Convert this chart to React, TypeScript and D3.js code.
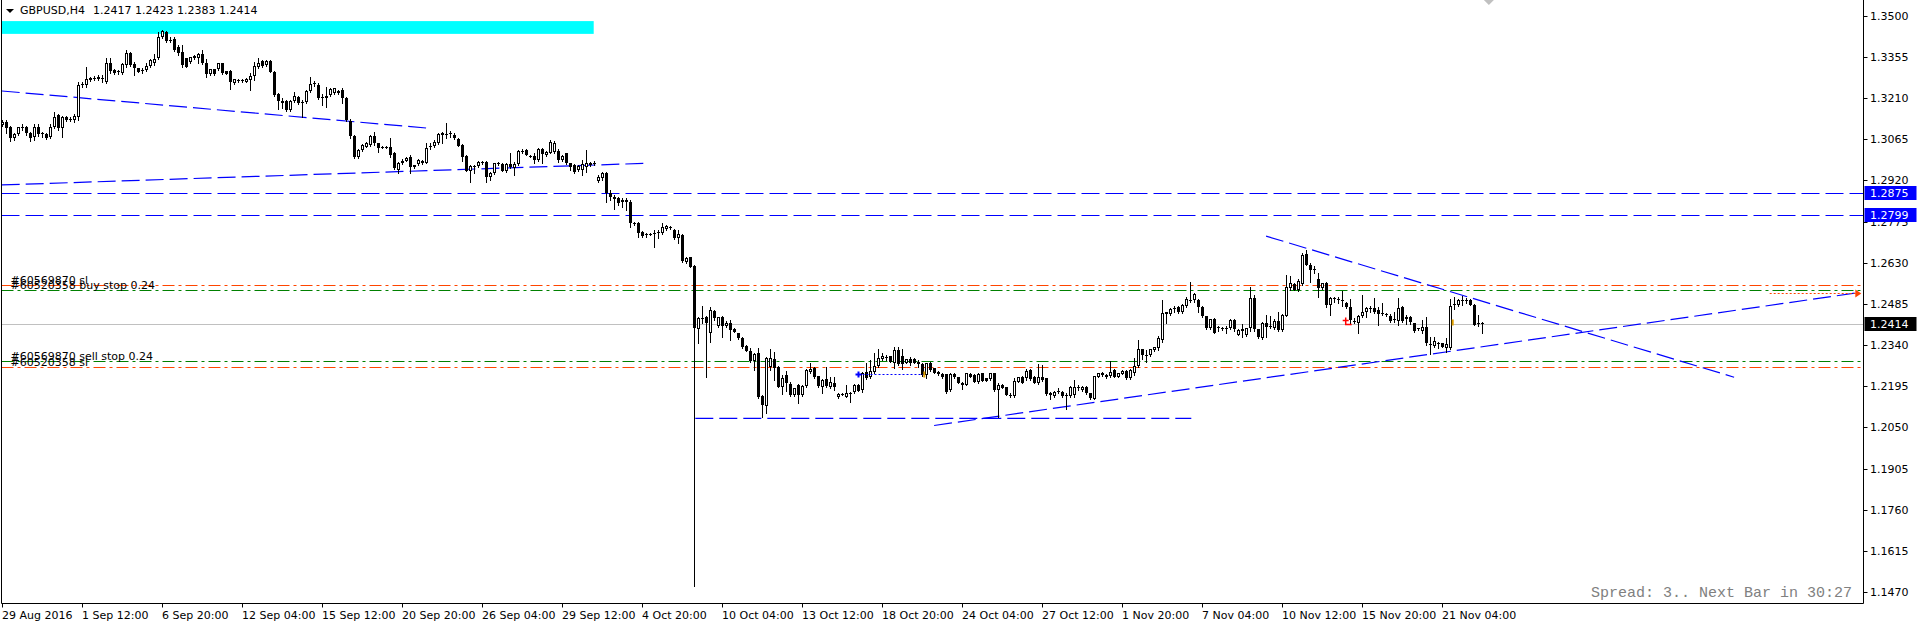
import React from 'react';
import * as d3 from 'd3';

// ---------- DATA (H4 GBPUSD, [open, high, low, close]) ----------
const bars1: number[][] = [
[1.3115,1.3133,1.3110,1.3125],[1.3127,1.3133,1.3086,1.3103],[1.3109,1.3112,1.3060,1.3068],[1.3068,1.3086,1.3062,1.3084],
[1.3084,1.3109,1.3080,1.3107],[1.3107,1.3119,1.3098,1.3109],[1.3107,1.3112,1.3080,1.3086],[1.3086,1.3090,1.3060,1.3068],
[1.3072,1.3119,1.3062,1.3107],[1.3107,1.3119,1.3076,1.3084],[1.3084,1.3092,1.3074,1.3086],[1.3084,1.3088,1.3066,1.3068],
[1.3072,1.3119,1.3068,1.3109],[1.3107,1.3162,1.3103,1.3145],[1.3150,1.3154,1.3098,1.3103],[1.3103,1.3147,1.3074,1.3145],
[1.3142,1.3148,1.3130,1.3133],[1.3135,1.3145,1.3128,1.3138],[1.3133,1.3154,1.3127,1.3148],[1.3145,1.3268,1.3133,1.3256],
[1.3256,1.3268,1.3250,1.3260],[1.3256,1.3321,1.3250,1.3276],[1.3274,1.3285,1.3270,1.3280],[1.3280,1.3288,1.3274,1.3279],
[1.3277,1.3291,1.3274,1.3285],[1.3280,1.3291,1.3268,1.3276],[1.3268,1.3350,1.3262,1.3332],[1.3332,1.3350,1.3297,1.3307],
[1.3309,1.3312,1.3294,1.3297],[1.3300,1.3309,1.3295,1.3305],[1.3297,1.3332,1.3294,1.3329],[1.3327,1.3379,1.3321,1.3368],
[1.3368,1.3371,1.3324,1.3327],[1.3329,1.3338,1.3291,1.3315],[1.3315,1.3317,1.3300,1.3303],[1.3307,1.3317,1.3297,1.3309],
[1.3309,1.3332,1.3307,1.3324],[1.3324,1.3346,1.3321,1.3344],[1.3332,1.3364,1.3327,1.3346],[1.3350,1.3444,1.3346,1.3424],
[1.3424,1.3450,1.3420,1.3446],[1.3442,1.3446,1.3409,1.3412],[1.3412,1.3426,1.3409,1.3415],[1.3417,1.3426,1.3377,1.3379],
[1.3389,1.3397,1.3362,1.3368],[1.3371,1.3397,1.3321,1.3325],[1.3350,1.3352,1.3318,1.3321],[1.3338,1.3356,1.3335,1.3354],
[1.3350,1.3360,1.3348,1.3358],[1.3350,1.3368,1.3335,1.3364],[1.3365,1.3379,1.3330,1.3332],[1.3335,1.3346,1.3285,1.3295],
[1.3295,1.3313,1.3292,1.3311],[1.3311,1.3314,1.3290,1.3294],[1.3312,1.3335,1.3309,1.3332],[1.3332,1.3335,1.3295,1.3297],
[1.3305,1.3307,1.3293,1.3295],[1.3307,1.3309,1.3241,1.3265],[1.3262,1.3278,1.3258,1.3276],[1.3273,1.3278,1.3268,1.3271],
[1.3271,1.3276,1.3266,1.3272],[1.3268,1.3282,1.3265,1.3278],[1.3274,1.3297,1.3239,1.3288],[1.3288,1.3338,1.3274,1.3323],
[1.3321,1.3352,1.3317,1.3335],[1.3341,1.3344,1.3320,1.3323],[1.3327,1.3345,1.3324,1.3341],[1.3341,1.3344,1.3300,1.3303],
[1.3303,1.3307,1.3217,1.3221],[1.3224,1.3229,1.3170,1.3201],[1.3201,1.3209,1.3174,1.3194],[1.3199,1.3203,1.3166,1.3168],
[1.3168,1.3203,1.3165,1.3201],[1.3201,1.3233,1.3197,1.3217],[1.3215,1.3218,1.3190,1.3192],[1.3192,1.3203,1.3145,1.3196],
[1.3195,1.3239,1.3192,1.3236],[1.3236,1.3285,1.3233,1.3260],[1.3260,1.3271,1.3253,1.3262],[1.3256,1.3262,1.3205,1.3209],
[1.3215,1.3224,1.3186,1.3209],[1.3209,1.3250,1.3180,1.3217],[1.3221,1.3244,1.3218,1.3242],[1.3227,1.3247,1.3224,1.3244],
[1.3236,1.3240,1.3226,1.3229],[1.3239,1.3244,1.3192,1.3209],[1.3211,1.3213,1.3130,1.3133],[1.3130,1.3135,1.3068,1.3076],
[1.3076,1.3080,1.2998,1.3001],[1.3004,1.3030,1.3000,1.3027],[1.3027,1.3048,1.3024,1.3045],[1.3039,1.3055,1.3036,1.3051],
[1.3045,1.3080,1.3042,1.3076],[1.3076,1.3092,1.3045,1.3051],[1.3051,1.3053,1.3021,1.3033],[1.3036,1.3042,1.3033,1.3039],
[1.3039,1.3042,1.3034,1.3038],[1.3039,1.3068,1.3004,1.3010],[1.3018,1.3020,1.2960,1.2963],
];
const bars2: number[][] = [
[1.2957,1.2985,1.2947,1.2983],[1.2983,1.2995,1.2978,1.2990],[1.2990,1.3003,1.2987,1.3000],[1.3004,1.3008,1.2947,1.2966],
[1.2966,1.2976,1.2962,1.2974],[1.2978,1.2995,1.2975,1.2992],[1.2980,1.2993,1.2977,1.2990],[1.2980,1.3051,1.2980,1.3033],
[1.3036,1.3051,1.3029,1.3041],[1.3041,1.3062,1.3038,1.3054],[1.3051,1.3086,1.3048,1.3083],[1.3080,1.3092,1.3051,1.3086],
[1.3083,1.3121,1.3068,1.3085],[1.3085,1.3095,1.3074,1.3087],[1.3080,1.3086,1.3065,1.3068],[1.3066,1.3068,1.3040,1.3042],
[1.3045,1.3048,1.2990,1.3004],[1.3006,1.3008,1.2952,1.2954],[1.2954,1.2974,1.2916,1.2971],[1.2970,1.2974,1.2945,1.2968],
[1.2971,1.2987,1.2968,1.2984],[1.2984,1.2988,1.2978,1.2983],[1.2985,1.2988,1.2916,1.2933],[1.2933,1.2951,1.2921,1.2947],
[1.2945,1.2983,1.2942,1.2980],[1.2980,1.2985,1.2975,1.2979],[1.2977,1.2980,1.2952,1.2954],[1.2954,1.2980,1.2951,1.2977],
[1.2977,1.3015,1.2963,1.2966],[1.2963,1.2986,1.2939,1.2977],[1.2977,1.3027,1.2975,1.3024],[1.3021,1.3030,1.3016,1.3024],
[1.3027,1.3032,1.3008,1.3010],[1.3007,1.3010,1.3001,1.3004],[1.3007,1.3015,1.2980,1.2992],[1.2992,1.3033,1.2990,1.3029],
[1.3029,1.3033,1.2983,1.3012],[1.3010,1.3024,1.3007,1.3021],[1.3018,1.3062,1.3015,1.3056],[1.3020,1.3058,1.3016,1.3053],
[1.3025,1.3029,1.2986,1.2992],[1.2992,1.3008,1.2990,1.3006],[1.3015,1.3018,1.2978,1.2980],[1.2980,1.2983,1.2957,1.2968],
[1.2974,1.2977,1.2945,1.2951],[1.2957,1.2975,1.2954,1.2971],[1.2957,1.2992,1.2939,1.2977],[1.2966,1.3027,1.2951,1.2980],
[1.2974,1.2986,1.2971,1.2983],[1.2983,1.2987,1.2974,1.2978],[1.2919,1.2939,1.2916,1.2933],[1.2927,1.2951,1.2921,1.2945],
[1.2945,1.2951,1.2845,1.2877],[1.2877,1.2886,1.2851,1.2860],[1.2860,1.2869,1.2818,1.2853],[1.2857,1.2860,1.2835,1.2839],
[1.2845,1.2857,1.2828,1.2851],[1.2851,1.2857,1.2816,1.2845],[1.2845,1.2851,1.2755,1.2771],[1.2771,1.2774,1.2764,1.2767],
[1.2769,1.2772,1.2720,1.2736],[1.2740,1.2743,1.2722,1.2724],[1.2728,1.2736,1.2720,1.2731],[1.2731,1.2736,1.2727,1.2733],
[1.2733,1.2745,1.2687,1.2735],[1.2734,1.2745,1.2716,1.2737],[1.2736,1.2771,1.2731,1.2755],[1.2748,1.2763,1.2745,1.2759],
[1.2755,1.2760,1.2748,1.2752],[1.2745,1.2748,1.2714,1.2716],[1.2716,1.2745,1.2698,1.2731],[1.2728,1.2731,1.2634,1.2637],
[1.2634,1.2649,1.2630,1.2646],[1.2649,1.2652,1.2614,1.2616],[1.2619,1.2622,1.1491,1.2399],[1.2396,1.2440,1.2349,1.2434],
[1.2434,1.2478,1.2417,1.2436],[1.2440,1.2442,1.2229,1.2417],[1.2384,1.2473,1.2352,1.2464],[1.2460,1.2464,1.2428,1.2434],
[1.2407,1.2440,1.2404,1.2438],[1.2440,1.2443,1.2370,1.2407],[1.2407,1.2426,1.2405,1.2417],[1.2417,1.2428,1.2358,1.2393],
[1.2397,1.2400,1.2385,1.2387],[1.2381,1.2384,1.2362,1.2364],[1.2364,1.2367,1.2329,1.2334],[1.2337,1.2340,1.2318,1.2320],
[1.2320,1.2329,1.2282,1.2285],[1.2285,1.2311,1.2252,1.2309],[1.2313,1.2329,1.2153,1.2158],[1.2161,1.2164,1.2088,1.2129],
[1.2126,1.2299,1.2100,1.2293],[1.2262,1.2325,1.2252,1.2293],[1.2290,1.2317,1.2217,1.2258],[1.2262,1.2265,1.2192,1.2194],
];
const bars3: number[][] = [
[1.2194,1.2235,1.2168,1.2223],[1.2235,1.2250,1.2180,1.2205],[1.2203,1.2211,1.2161,1.2165],[1.2165,1.2190,1.2162,1.2188],
[1.2200,1.2203,1.2135,1.2165],[1.2165,1.2198,1.2162,1.2196],[1.2196,1.2255,1.2194,1.2253],[1.2247,1.2276,1.2241,1.2255],
[1.2258,1.2262,1.2223,1.2229],[1.2231,1.2233,1.2194,1.2196],[1.2194,1.2219,1.2170,1.2217],[1.2220,1.2262,1.2194,1.2196],
[1.2194,1.2229,1.2188,1.2211],[1.2208,1.2229,1.2182,1.2192],[1.2156,1.2173,1.2153,1.2168],[1.2168,1.2172,1.2163,1.2167],
[1.2159,1.2200,1.2156,1.2170],[1.2170,1.2176,1.2141,1.2171],[1.2176,1.2203,1.2170,1.2200],[1.2200,1.2203,1.2178,1.2180],
[1.2182,1.2247,1.2176,1.2241],[1.2247,1.2276,1.2220,1.2223],[1.2227,1.2288,1.2223,1.2249],[1.2247,1.2311,1.2241,1.2267],
[1.2267,1.2325,1.2264,1.2294],[1.2292,1.2311,1.2288,1.2300],[1.2298,1.2305,1.2288,1.2296],[1.2300,1.2303,1.2280,1.2282],
[1.2278,1.2335,1.2258,1.2323],[1.2323,1.2335,1.2270,1.2274],[1.2302,1.2325,1.2255,1.2274],[1.2278,1.2292,1.2276,1.2290],
[1.2290,1.2297,1.2270,1.2276],[1.2290,1.2293,1.2276,1.2278],[1.2282,1.2288,1.2262,1.2274],[1.2274,1.2276,1.2233,1.2235],
[1.2235,1.2278,1.2223,1.2276],[1.2276,1.2279,1.2250,1.2253],[1.2258,1.2260,1.2241,1.2243],[1.2247,1.2249,1.2235,1.2237],
[1.2239,1.2241,1.2225,1.2227],[1.2237,1.2240,1.2173,1.2176],[1.2182,1.2241,1.2180,1.2239],[1.2239,1.2241,1.2225,1.2227],
[1.2227,1.2229,1.2206,1.2208],[1.2208,1.2210,1.2184,1.2200],[1.2200,1.2243,1.2198,1.2241],[1.2239,1.2243,1.2227,1.2229],
[1.2235,1.2237,1.2209,1.2211],[1.2211,1.2241,1.2208,1.2239],[1.2241,1.2243,1.2213,1.2215],[1.2223,1.2225,1.2212,1.2215],
[1.2220,1.2243,1.2217,1.2241],[1.2241,1.2243,1.2180,1.2182],[1.2182,1.2206,1.2086,1.2200],[1.2200,1.2203,1.2188,1.2190],
[1.2192,1.2194,1.2163,1.2165],[1.2165,1.2170,1.2159,1.2163],[1.2161,1.2223,1.2159,1.2215],[1.2211,1.2229,1.2209,1.2227],
[1.2229,1.2232,1.2206,1.2208],[1.2223,1.2255,1.2217,1.2250],[1.2253,1.2255,1.2218,1.2220],[1.2229,1.2231,1.2206,1.2208],
[1.2208,1.2274,1.2203,1.2229],[1.2227,1.2270,1.2215,1.2217],[1.2223,1.2226,1.2166,1.2168],[1.2173,1.2175,1.2149,1.2165],
[1.2161,1.2178,1.2159,1.2176],[1.2176,1.2188,1.2170,1.2177],[1.2176,1.2178,1.2158,1.2161],[1.2163,1.2173,1.2114,1.2166],
[1.2161,1.2195,1.2158,1.2192],[1.2165,1.2217,1.2159,1.2192],[1.2192,1.2200,1.2182,1.2194],[1.2182,1.2196,1.2180,1.2194],
[1.2194,1.2196,1.2168,1.2170],[1.2170,1.2172,1.2151,1.2153],[1.2151,1.2233,1.2149,1.2231],[1.2229,1.2243,1.2227,1.2241],
[1.2243,1.2245,1.2233,1.2235],[1.2227,1.2237,1.2225,1.2235],[1.2231,1.2285,1.2227,1.2247],[1.2253,1.2256,1.2227,1.2229],
[1.2229,1.2243,1.2227,1.2241],[1.2239,1.2252,1.2237,1.2250],[1.2250,1.2252,1.2221,1.2223],[1.2223,1.2255,1.2220,1.2253],
[1.2241,1.2294,1.2235,1.2267],[1.2267,1.2358,1.2264,1.2325],[1.2325,1.2327,1.2290,1.2305],[1.2305,1.2323,1.2282,1.2306],
[1.2305,1.2328,1.2302,1.2325],[1.2323,1.2335,1.2320,1.2332],[1.2329,1.2372,1.2323,1.2364],[1.2358,1.2499,1.2352,1.2452],
[1.2450,1.2458,1.2419,1.2455],
];
const bars4: number[][] = [
[1.2450,1.2470,1.2447,1.2466],[1.2466,1.2478,1.2458,1.2470],[1.2476,1.2479,1.2453,1.2455],[1.2455,1.2485,1.2452,1.2482],
[1.2478,1.2509,1.2476,1.2502],[1.2500,1.2564,1.2493,1.2498],[1.2499,1.2525,1.2493,1.2520],[1.2500,1.2502,1.2455,1.2476],
[1.2476,1.2479,1.2440,1.2441],[1.2441,1.2443,1.2398,1.2399],[1.2399,1.2433,1.2396,1.2431],[1.2431,1.2434,1.2383,1.2384],
[1.2403,1.2408,1.2391,1.2401],[1.2401,1.2405,1.2395,1.2399],[1.2399,1.2408,1.2384,1.2400],[1.2399,1.2432,1.2396,1.2429],
[1.2429,1.2431,1.2391,1.2396],[1.2376,1.2396,1.2374,1.2394],[1.2388,1.2415,1.2370,1.2396],[1.2376,1.2402,1.2373,1.2399],
[1.2399,1.2546,1.2388,1.2505],[1.2507,1.2517,1.2388,1.2396],[1.2396,1.2398,1.2366,1.2368],[1.2364,1.2421,1.2362,1.2419],
[1.2417,1.2446,1.2370,1.2405],[1.2405,1.2443,1.2399,1.2408],[1.2399,1.2431,1.2396,1.2426],[1.2426,1.2458,1.2391,1.2394],
[1.2394,1.2448,1.2391,1.2446],[1.2443,1.2587,1.2441,1.2546],[1.2540,1.2584,1.2534,1.2560],[1.2556,1.2558,1.2534,1.2534],
[1.2534,1.2572,1.2529,1.2567],[1.2556,1.2664,1.2552,1.2658],[1.2660,1.2675,1.2623,1.2623],[1.2623,1.2629,1.2564,1.2603],
[1.2607,1.2619,1.2593,1.2605],[1.2572,1.2593,1.2509,1.2540],[1.2540,1.2560,1.2538,1.2558],[1.2560,1.2564,1.2476,1.2482],
[1.2482,1.2511,1.2446,1.2505],[1.2505,1.2509,1.2493,1.2503],[1.2501,1.2509,1.2488,1.2499],[1.2499,1.2532,1.2478,1.2496],
[1.2490,1.2492,1.2472,1.2473],[1.2473,1.2502,1.2417,1.2429],[1.2425,1.2435,1.2417,1.2423],[1.2419,1.2446,1.2382,1.2443],
[1.2441,1.2517,1.2438,1.2458],[1.2458,1.2476,1.2438,1.2470],[1.2470,1.2478,1.2458,1.2471],[1.2470,1.2505,1.2452,1.2458],
[1.2462,1.2473,1.2411,1.2450],[1.2452,1.2488,1.2446,1.2453],[1.2448,1.2452,1.2441,1.2446],[1.2443,1.2450,1.2423,1.2426],
[1.2430,1.2455,1.2423,1.2432],[1.2426,1.2505,1.2411,1.2470],[1.2473,1.2478,1.2423,1.2426],[1.2431,1.2446,1.2415,1.2438],
[1.2438,1.2441,1.2415,1.2423],[1.2417,1.2419,1.2386,1.2388],[1.2396,1.2401,1.2392,1.2399],[1.2388,1.2429,1.2382,1.2403],
[1.2403,1.2438,1.2341,1.2347],[1.2343,1.2368,1.2309,1.2340],[1.2337,1.2370,1.2335,1.2356],[1.2346,1.2352,1.2329,1.2344],
[1.2347,1.2349,1.2333,1.2335],[1.2329,1.2364,1.2317,1.2344],[1.2329,1.2502,1.2326,1.2478],[1.2480,1.2509,1.2466,1.2484],
[1.2482,1.2502,1.2479,1.2499],[1.2497,1.2513,1.2482,1.2498],[1.2498,1.2505,1.2488,1.2500],[1.2499,1.2502,1.2481,1.2482],
[1.2482,1.2485,1.2410,1.2411],[1.2415,1.2446,1.2406,1.2419],[1.2417,1.2423,1.2383,1.2414],
];

const priceTicks = [1.3500,1.3355,1.3210,1.3065,1.2920,1.2775,1.2630,1.2485,1.2340,1.2195,1.2050,1.1905,1.1760,1.1615,1.1470];
const timeLabels = ["29 Aug 2016","1 Sep 12:00","6 Sep 20:00","12 Sep 04:00","15 Sep 12:00","20 Sep 20:00","26 Sep 04:00",
  "29 Sep 12:00","4 Oct 20:00","10 Oct 04:00","13 Oct 12:00","18 Oct 20:00","24 Oct 04:00","27 Oct 12:00","1 Nov 20:00",
  "7 Nov 04:00","10 Nov 12:00","15 Nov 20:00","21 Nov 04:00"];
const barsPerLabel = 20;
const horizontalLevels = [1.2875, 1.2799];
const bidPrice = 1.2414;
// trend lines: [bar1, price1, bar2, price2]
const trendLines = [
  [-0.2, 1.3235, 106.3, 1.3104],
  [-0.2, 1.2904, 160.2, 1.2980],
  [173.2, 1.2082, 297.2, 1.2082],
  [232.9, 1.2057, 464.1, 1.2525],
  [315.9, 1.2724, 432.9, 1.2227],
];
const orderLevels = [
  { price: 1.2553, kind: 'sl', label: '#60569870 sl' },
  { price: 1.2533, kind: 'entry', label: '#60520358 buy stop 0.24' },
  { price: 1.2283, kind: 'entry', label: '#60569870 sell stop 0.24' },
  { price: 1.2262, kind: 'sl', label: '#60520358 sl' },
];
const cyanBox = { bar1: -0.2, bar2: 147.8, top: 1.3481, bottom: 1.3436 };
const axisMarks = [
  { price: 1.2875, bg: '#0000FF' },
  { price: 1.2799, bg: '#0000FF' },
  { price: 1.2414, bg: '#000000' },
];
const closedTrade = { bar1: 214, bar2: 230.2, price: 1.2237 };
const alertArrow = { bar1: 441.8, bar2: 464.2, price: 1.2523 };
const shiftBar = 371.6;
const titleSymbol = 'GBPUSD,H4';
const titleOHLC = '1.2417 1.2423 1.2383 1.2414';
const statusText = 'Spread: 3.. Next Bar in 30:27';

const ORANGE = '#FF4500';
const GREEN = '#008000';
const BLUE = '#0000FF';
const FONT = 'DejaVu Sans';

export default function App() {
  const bars = [...bars1, ...bars2, ...bars3, ...bars4];
  const x = d3.scaleLinear().domain([0, 360]).range([2.5, 1442.5]);
  const y = d3.scaleLinear().domain([1.35, 1.147]).range([15.7, 592.2]);
  const plotL = 1.5, plotR = 1863.5, plotB = 603.5;
  const py = (p: number) => Math.round(y(p)) + 0.5;

  const candles = bars.map(([o, h, l, c], i) => {
    const cx = x(i);
    const yh = Math.round(y(h)), yl = Math.round(y(l));
    const yo = Math.round(y(o)), yc = Math.round(y(c));
    const top = Math.min(yo, yc), bot = Math.max(yo, yc);
    const bull = c > o;
    let body;
    if (bull && bot - top >= 2) {
      body = <rect x={cx - 1} y={top + 0.5} width={2} height={bot - top - 1} fill="#fff" stroke="#000" strokeWidth={1} />;
    } else {
      body = <rect x={cx - 1.5} y={top} width={3} height={Math.max(bot - top, 1)} fill="#000" />;
    }
    return (
      <g key={i}>
        <line x1={cx} x2={cx} y1={yh} y2={yl + 1} stroke="#000" strokeWidth={1} />
        {body}
      </g>
    );
  });

  return (
    <svg width={1918} height={626} style={{ position: 'absolute', left: 0, top: 0, background: '#fff' }}
      fontFamily={FONT}>
      <rect x={0} y={0} width={1918} height={626} fill="#fff" />
      <defs>
        <clipPath id="plot"><rect x={2} y={0} width={plotR - 2} height={plotB} /></clipPath>
      </defs>
      <g clipPath="url(#plot)">
        <rect x={x(cyanBox.bar1)} y={y(cyanBox.top)} width={x(cyanBox.bar2) - x(cyanBox.bar1)}
          height={y(cyanBox.bottom) - y(cyanBox.top)} fill="#00FFFF" />
        <line x1={plotL} x2={plotR} y1={py(bidPrice)} y2={py(bidPrice)} stroke="#C0C0C0" strokeWidth={1} />
        {horizontalLevels.map((p, k) => (
          <line key={k} x1={plotL} x2={plotR} y1={py(p)} y2={py(p)} stroke={BLUE} strokeWidth={1} strokeDasharray="18,6" />
        ))}
        {orderLevels.map((o, k) => (
          <line key={k} x1={plotL} x2={plotR} y1={py(o.price)} y2={py(o.price)}
            stroke={o.kind === 'sl' ? ORANGE : GREEN} strokeWidth={1} strokeDasharray="12,4,3,4" />
        ))}
        {trendLines.map(([b1, p1, b2, p2], k) => (
          <line key={k} x1={x(b1)} y1={y(p1)} x2={x(b2)} y2={y(p2)} stroke={BLUE} strokeWidth={1.2}
            strokeDasharray="18,6" />
        ))}
        <line x1={x(alertArrow.bar1)} x2={x(alertArrow.bar2)} y1={py(alertArrow.price)} y2={py(alertArrow.price)}
          stroke={ORANGE} strokeWidth={1} strokeDasharray="2,2" />
        <path d={`M${x(alertArrow.bar2) - 4},${py(alertArrow.price) - 4} L${x(alertArrow.bar2) + 2},${py(alertArrow.price)} L${x(alertArrow.bar2) - 4},${py(alertArrow.price) + 4} Z`}
          fill={ORANGE} />
        {candles}
        <line x1={x(closedTrade.bar1) + 4} x2={x(closedTrade.bar2)} y1={py(closedTrade.price)} y2={py(closedTrade.price)}
          stroke={BLUE} strokeWidth={1} strokeDasharray="2,2" />
        <path d={`M${x(closedTrade.bar1) - 3},${py(closedTrade.price)} h6 M${x(closedTrade.bar1)},${py(closedTrade.price) - 3} v6`}
          stroke={BLUE} strokeWidth={2} />
        <rect x={x(closedTrade.bar2)} y={py(closedTrade.price) - 3} width={2} height={6} fill="#E0A000" />
        <path d={`M${x(335.8) - 3},${py(1.2430)} h6 M${x(335.8)},${py(1.2430) - 3} v6 M${x(335.8)},${py(1.2430)} v4 h6`}
          stroke="#FF0000" strokeWidth={1.5} fill="none" />
        <rect x={x(362.3)} y={py(1.2420) - 3} width={2} height={6} fill="#E0A000" />
      </g>

      {orderLevels.map((o, k) => (
        <text key={k} x={10.5} y={py(o.price) - 2} fontSize={11} fill="#000">{o.label}</text>
      ))}

      {/* frame */}
      <line x1={plotL} x2={plotL} y1={0} y2={plotB} stroke="#000" strokeWidth={1} />
      <line x1={plotL} x2={plotR} y1={plotB} y2={plotB} stroke="#000" strokeWidth={1} />
      <line x1={plotR} x2={plotR} y1={0} y2={plotB} stroke="#000" strokeWidth={1} />

      {/* price axis */}
      {priceTicks.map((p, k) => (
        <g key={k}>
          <line x1={plotR} x2={plotR + 4} y1={py(p)} y2={py(p)} stroke="#000" />
          <text x={1870} y={y(p)} dy="0.36em" fontSize={11} fill="#000">{p.toFixed(4)}</text>
        </g>
      ))}
      {axisMarks.map((m, k) => (
        <g key={k}>
          <rect x={plotR + 1} y={Math.round(y(m.price)) - 7} width={52} height={14} fill={m.bg} />
          <text x={1870} y={y(m.price)} dy="0.36em" fontSize={11} fill="#fff">{m.price.toFixed(4)}</text>
        </g>
      ))}

      {/* time axis */}
      {timeLabels.map((t, k) => {
        const tx = x(k * barsPerLabel);
        return (
          <g key={k}>
            <line x1={tx} x2={tx} y1={plotB} y2={plotB + 4} stroke="#000" />
            <text x={tx - 0.5} y={619} fontSize={11} fill="#000">{t}</text>
          </g>
        );
      })}

      {/* title */}
      <path d="M6,9 L14,9 L10,13 Z" fill="#000" />
      <text x={20} y={14} fontSize={11} fill="#000">{titleSymbol}</text>
      <text x={93} y={14} fontSize={11} fill="#000">{titleOHLC}</text>

      {/* chart shift marker */}
      <path d={`M${x(shiftBar) - 5},0 L${x(shiftBar) + 5},0 L${x(shiftBar)},5 Z`} fill="#C0C0C0" />

      <text x={1852} y={597} fontSize={15} fontFamily="Liberation Mono" fill="#808080" textAnchor="end">{statusText}</text>
    </svg>
  );
}
